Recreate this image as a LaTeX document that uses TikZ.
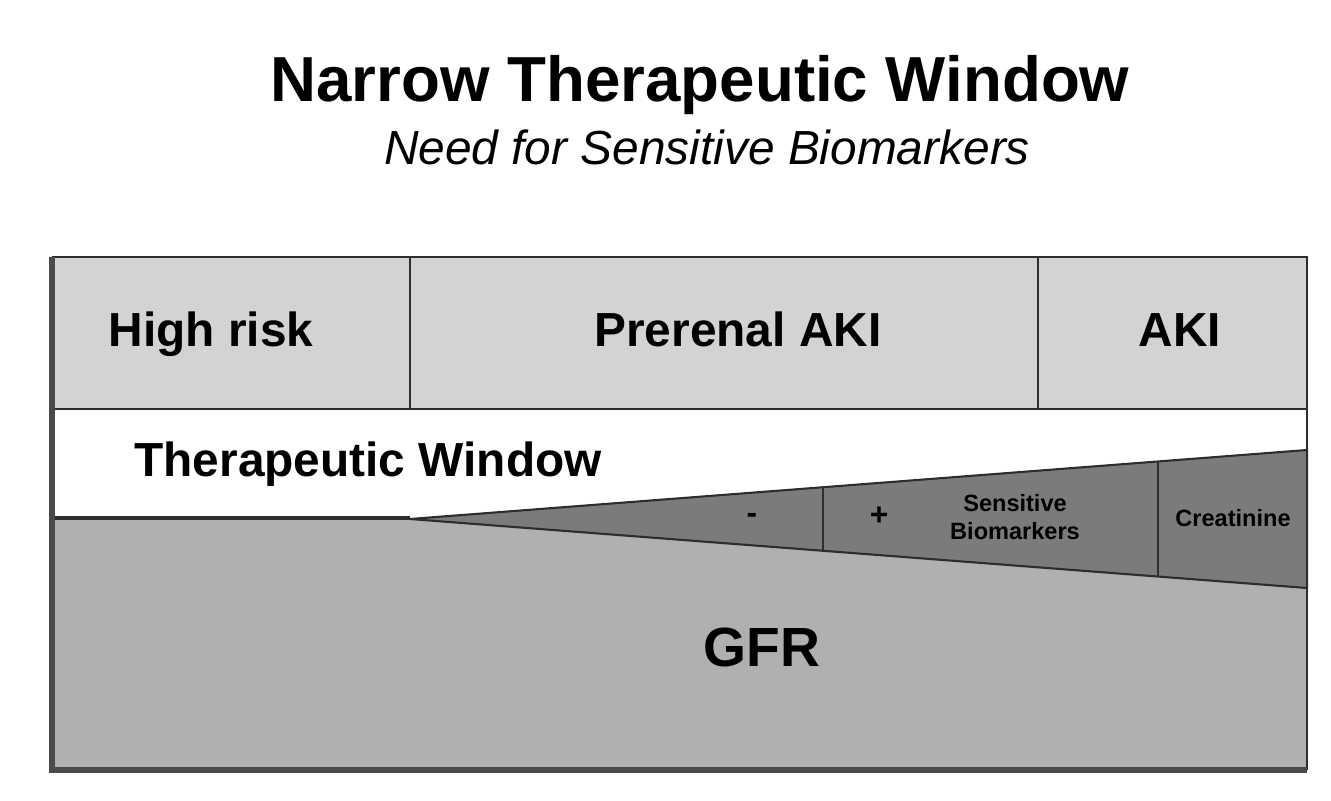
\documentclass[tikz,border=0pt]{standalone}
\usepackage{fontspec}
\setmainfont{Liberation Sans}
\definecolor{toprow}{HTML}{D3D3D3}
\definecolor{lowgray}{HTML}{B0B0B0}
\definecolor{wedgegray}{HTML}{7B7B7B}
\definecolor{edgegray}{HTML}{2E2E2E}
\definecolor{framegray}{HTML}{4A4A4A}
\tikzset{
  cellline/.style={draw=edgegray, line width=0.75pt},
  thinline/.style={draw=edgegray, line width=0.6pt},
  lbl/.style={font=\bfseries\fontsize{13.6}{15}\selectfont, inner sep=0pt, anchor=base},
  small/.style={font=\bfseries\fontsize{6.7}{8.2}\selectfont, inner sep=0pt, align=center},
}
\begin{document}
\begin{tikzpicture}[x=0.01cm, y=-0.01cm]
\useasboundingbox (0,0) rectangle (1331,800);
% title
\node[font=\bfseries\fontsize{18.1}{20}\selectfont, inner sep=0pt, anchor=base] (title) at (700,101) {Narrow Therapeutic Window};
\node[font=\itshape\fontsize{13.6}{15}\selectfont, inner sep=0pt, anchor=base] (subtitle) at (707,164) {Need for Sensitive Biomarkers};
% regions
\fill[toprow] (52,257) rectangle (1307,409);
\fill[white] (52,409) rectangle (1307,518);
\fill[lowgray] (52,518) rectangle (1307,770);
% wedge
\coordinate (apex) at (410,519);
\coordinate (wt) at (1307,450);
\coordinate (wb) at (1307,588);
\filldraw[fill=wedgegray, thinline] (apex) -- (wt) -- (wb) -- cycle;
\draw[thinline] (823,487) -- (823,551);
\draw[thinline] (1158,461.5) -- (1158,576.7);
% grid lines
\draw[cellline] (52,409) -- (1307,409);
\draw[cellline, line width=0.95pt] (52,518) -- (410,518);
\draw[thinline] (410,257) -- (410,409);
\draw[thinline] (1038,257) -- (1038,409);
% frame
\draw[cellline] (52,257) -- (1307,257) -- (1307,770);
\draw[framegray, line width=1.7pt] (52,257) -- (52,770) -- (1307,770);
% labels
\node[lbl] (hr) at (211,346) {High risk};
\node[lbl] (pre) at (738,346) {Prerenal AKI};
\node[lbl] (aki) at (1180,346) {AKI};
\node[lbl] (tw) at (368,476) {Therapeutic Window};
\node[font=\bfseries\fontsize{15.7}{17}\selectfont, inner sep=0pt, anchor=base] (gfr) at (762,666) {GFR};
\node[font=\bfseries\fontsize{9}{10}\selectfont, inner sep=0pt] (minus) at (752,518) {-};
\node[font=\bfseries\fontsize{9}{10}\selectfont, inner sep=0pt] (plus) at (879,516) {+};
\node[small] (sb) at (1015,517) {Sensitive\\Biomarkers};
\node[small] (cr) at (1233,518) {Creatinine};
\end{tikzpicture}
\end{document}
